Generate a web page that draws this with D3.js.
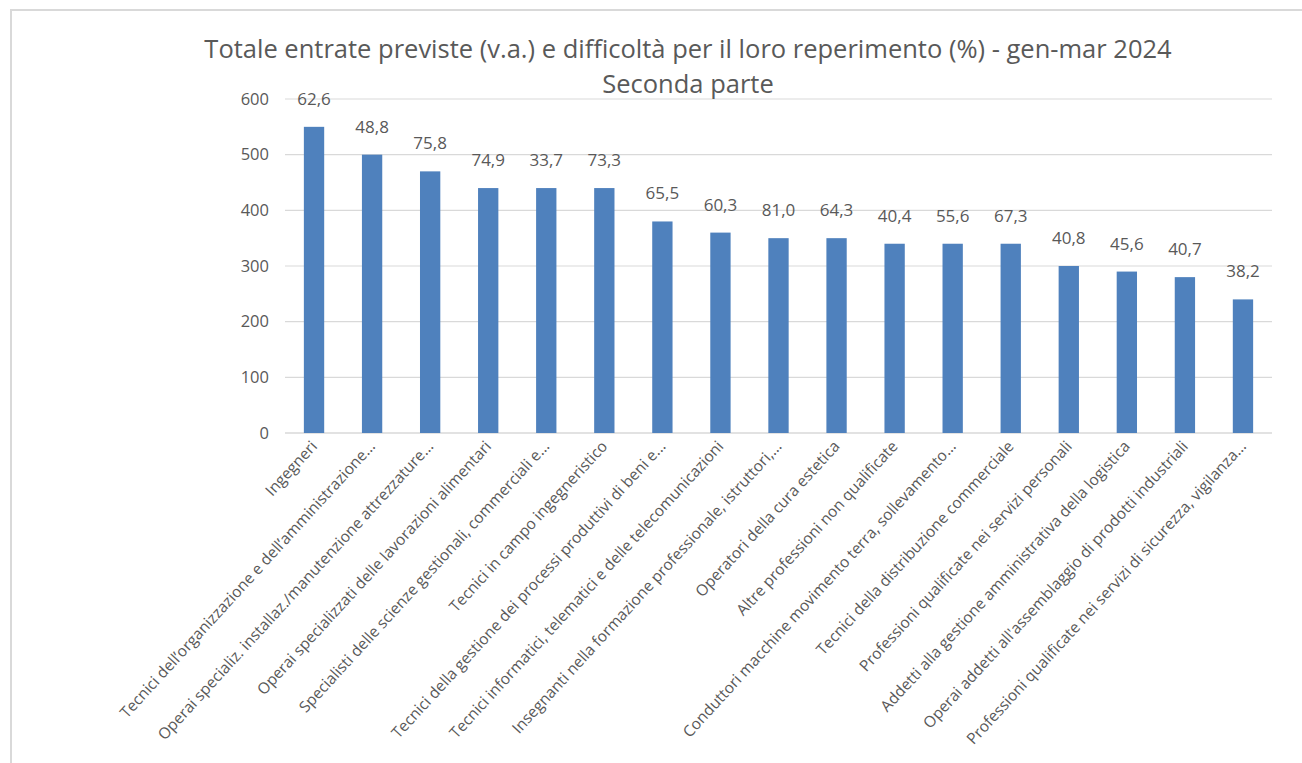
<!DOCTYPE html>
<html><head><meta charset="utf-8">
<script src="https://cdn.jsdelivr.net/npm/d3@7"></script>
<style>html,body{margin:0;padding:0;background:#fff;}svg{display:block;}</style>
</head><body>
<svg id="chart" width="1302" height="763"></svg>
<script>
const categories = [
  "Ingegneri",
  "Tecnici dell’organizzazione e dell’amministrazione...",
  "Operai specializ. installaz./manutenzione attrezzature...",
  "Operai specializzati delle lavorazioni alimentari",
  "Specialisti delle scienze gestionali, commerciali e...",
  "Tecnici in campo ingegneristico",
  "Tecnici della gestione dei processi produttivi di beni e...",
  "Tecnici informatici, telematici e delle telecomunicazioni",
  "Insegnanti nella formazione professionale, istruttori,...",
  "Operatori della cura estetica",
  "Altre professioni non qualificate",
  "Conduttori macchine movimento terra,  sollevamento...",
  "Tecnici della distribuzione commerciale",
  "Professioni qualificate nei servizi personali",
  "Addetti alla gestione amministrativa della logistica",
  "Operai addetti all'assemblaggio di prodotti industriali",
  "Professioni qualificate nei servizi di sicurezza, vigilanza..."
];
const entrate = [550, 500, 470, 440, 440, 440, 380, 360, 350, 350, 340, 340, 340, 300, 290, 280, 240];
const difficolta = ["62,6","48,8","75,8","74,9","33,7","73,3","65,5","60,3","81,0","64,3","40,4","55,6","67,3","40,8","45,6","40,7","38,2"];
const yTicks = [0, 100, 200, 300, 400, 500, 600];
const titleLines = ["Totale entrate previste (v.a.) e difficoltà per il loro reperimento (%) - gen-mar 2024", "Seconda parte"];

const svg = d3.select("#chart");
const W = 1302, H = 763;
const m = {left: 285, right: 30, top: 99, bottom: 330};
const textCol = "#595959";
const font = "'Open Sans', 'Noto Sans', sans-serif";

// frame
svg.append("line").attr("x1", 10).attr("x2", W).attr("y1", 10).attr("y2", 10).attr("stroke", "#d9d9d9").attr("stroke-width", 2);
svg.append("line").attr("x1", 11).attr("x2", 11).attr("y1", 10).attr("y2", H).attr("stroke", "#d9d9d9").attr("stroke-width", 2);

const x = d3.scaleBand().domain(categories).range([m.left, W - m.right]).paddingInner(0.65).paddingOuter(0.325);
const y = d3.scaleLinear().domain([0, 600]).range([H - m.bottom, m.top]);

// gridlines
svg.append("g").selectAll("line").data(yTicks).join("line")
  .attr("x1", m.left).attr("x2", W - m.right)
  .attr("y1", d => y(d)).attr("y2", d => y(d))
  .attr("stroke", "#d9d9d9").attr("stroke-width", d => d === 0 ? 1.5 : 1.2);

// y axis labels
const yAxis = d3.axisLeft(y).tickValues(yTicks).tickSize(0).tickPadding(16);
const gy = svg.append("g").attr("transform", `translate(${m.left},0)`).call(yAxis);
gy.select(".domain").remove();
gy.selectAll("text").attr("fill", textCol).style("font-family", font).style("font-size", "16.5px");

// bars
svg.append("g").selectAll("rect").data(entrate).join("rect")
  .attr("x", (d, i) => x(categories[i]))
  .attr("width", x.bandwidth())
  .attr("y", d => y(d))
  .attr("height", d => y(0) - y(d))
  .attr("fill", "#4f81bd");

// data labels
svg.append("g").selectAll("text").data(difficolta).join("text")
  .attr("x", (d, i) => x(categories[i]) + x.bandwidth() / 2)
  .attr("y", (d, i) => y(entrate[i]) - 22)
  .attr("text-anchor", "middle")
  .attr("fill", textCol)
  .style("font-family", font).style("font-size", "17px")
  .text(d => d);

// x axis labels
const xAxis = d3.axisBottom(x).tickSize(0).tickPadding(0);
const gx = svg.append("g").attr("transform", `translate(0,${y(0)})`).call(xAxis);
gx.select(".domain").remove();
gx.selectAll("text")
  .attr("fill", textCol)
  .style("font-family", font).style("font-size", "15.5px")
  .attr("text-anchor", "end")
  .attr("dy", null)
  .attr("y", null)
  .attr("transform", "translate(4,14) rotate(-47.5)");

// title
svg.append("g").selectAll("text").data(titleLines).join("text")
  .attr("x", 688).attr("y", (d, i) => 58 + i * 35)
  .attr("text-anchor", "middle")
  .attr("fill", textCol)
  .style("font-family", font).style("font-size", "25.5px")
  .text(d => d);
</script>
</body></html>
